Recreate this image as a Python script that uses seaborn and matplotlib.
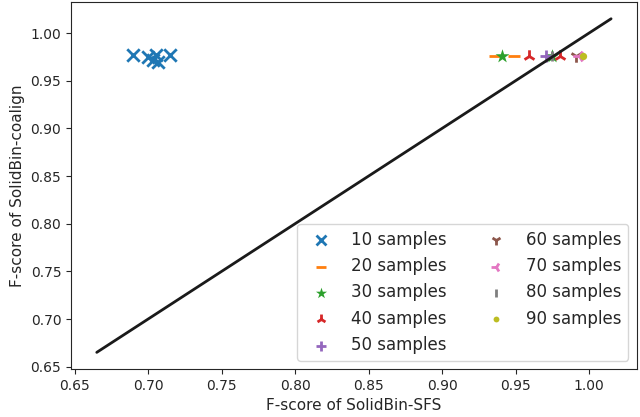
import matplotlib
matplotlib.use("Agg")
import matplotlib.pyplot as plt
import seaborn as sns
import pandas as pd

sns.set_style("ticks")

labels = ["10 samples", "20 samples", "30 samples", "40 samples", "50 samples",
          "60 samples", "70 samples", "80 samples", "90 samples"]
markers = ["x", "_", "*", "2", "+", "1", "3", "|", "."]

x10 = [0.690, 0.700, 0.703, 0.705, 0.707, 0.715]
y10 = [0.977, 0.975, 0.972, 0.977, 0.970, 0.977]
x20 = [0.936, 0.949]
y20 = [0.976, 0.976]
x30 = [0.941, 0.975]
y30 = [0.976, 0.976]
x40 = [0.959, 0.980]
y40 = [0.976, 0.976]
x50 = [0.971]
y50 = [0.976]
x60 = [0.991]
y60 = [0.976]
x70 = [0.993]
y70 = [0.976]
x80 = [0.975]
y80 = [0.976]
x90 = [0.996]
y90 = [0.976]

xs = [x10, x20, x30, x40, x50, x60, x70, x80, x90]
ys = [y10, y20, y30, y40, y50, y60, y70, y80, y90]

diag = [0.665, 1.015]

palette = sns.color_palette("tab10")

fig = plt.figure(figsize=(6.4, 4.17), dpi=100)
ax = fig.add_axes([0.111, 0.115, 0.884, 0.88])

sns.lineplot(x=diag, y=diag, ax=ax, color="#1a1a1a", linewidth=2, legend=False)

sizes = [80, 80, 110, 80, 80, 80, 80, 60, 110]
filled = {"*", "."}
for i, (lab, m) in enumerate(zip(labels, markers)):
    df = pd.DataFrame({"x": xs[i], "y": ys[i]})
    if m in filled:
        sns.scatterplot(data=df, x="x", y="y", ax=ax, marker=m, color=palette[i],
                        s=sizes[i], linewidth=0, label=lab)
    else:
        sns.scatterplot(data=df, x="x", y="y", ax=ax, marker=m, color=palette[i],
                        s=sizes[i], linewidth=2, label=lab)

ax.set_xticks([0.65, 0.70, 0.75, 0.80, 0.85, 0.90, 0.95, 1.00])
ax.set_yticks([0.65, 0.70, 0.75, 0.80, 0.85, 0.90, 0.95, 1.00])
ax.set_xlim(0.6475, 1.0325)
ax.set_ylim(0.6475, 1.0325)
ax.tick_params(labelsize=10)
ax.set_xlabel("F-score of SolidBin-SFS", fontsize=11)
ax.set_ylabel("F-score of SolidBin-coalign", fontsize=11)
ax.legend(loc="lower right", ncol=2, fontsize=12, markerscale=0.8)

fig.savefig("out.png", dpi=100)
